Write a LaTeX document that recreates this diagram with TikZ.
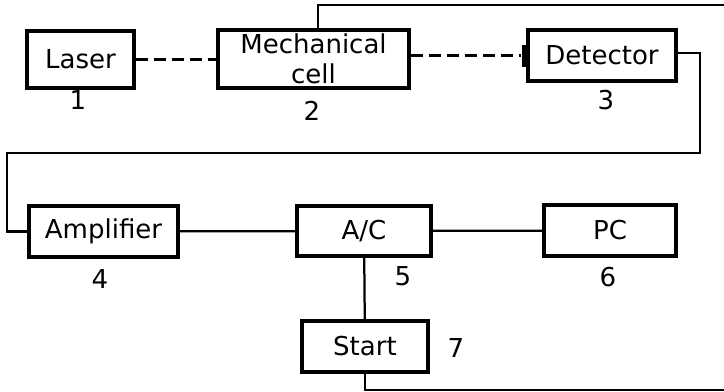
\documentclass[tikz,border=0pt]{standalone}
\usepackage{fontspec}
\setmainfont{DejaVu Sans}
\usetikzlibrary{positioning,calc}

\begin{document}
\begin{tikzpicture}[x=0.025cm,y=-0.025cm,font=\fontsize{18.5}{21}\selectfont,
    block/.style={draw,line width=2.5pt,inner sep=0pt,align=center},
    wire/.style={line width=1.6pt},
    beam/.style={line width=1.8pt,dash pattern=on 0.3cm off 0.15cm}]
    \useasboundingbox (0,0) rectangle (724,391);
    \node[block,minimum width=2.675cm,minimum height=1.425cm] (laser) at (80.5,59.5) {Laser};
    \node[block,minimum width=4.775cm,minimum height=1.45cm] (mech) at (313.5,59) {Mechanical\\cell};
    \node[block,minimum width=3.7cm,minimum height=1.275cm] (det) at (602,55.5) {Detector};
    \node[block,minimum width=3.725cm,minimum height=1.275cm] (amp) at (103.5,231.5) {Amplifier};
    \node[block,minimum width=3.35cm,minimum height=1.25cm] (ac) at (364,231) {A/C};
    \node[block,minimum width=3.3cm,minimum height=1.275cm] (pc) at (610,230.5) {PC};
    \node[block,minimum width=3.15cm,minimum height=1.275cm] (start) at (365,346.5) {Start};
    \node[fill,inner sep=0pt,minimum width=0.11cm,minimum height=0.55cm,anchor=east] (win) at (det.west) {};
    \node (n1) at (78,100) {1};
    \node (n2) at (312,111) {2};
    \node (n3) at (606,100) {3};
    \node (n4) at (100,279) {4};
    \node (n5) at (403,276) {5};
    \node (n6) at (608,277) {6};
    \node (n7) at (456,348) {7};
    \coordinate (r1) at (700,153);
    \coordinate (r2) at (7,153);
    \coordinate (t1) at (724,5);
    \coordinate (b1) at (724,390);
    \draw[beam] (laser.east) -- (laser.east -| mech.west);
    \draw[beam] (mech.east |- win.west) -- (win.west);
    \draw[wire] ([yshift=0.06cm]det.east) -| (r1) -- (r2) |- (amp.west);
    \draw[wire] (amp) -- (ac);
    \draw[wire] (ac) -- (pc);
    \draw[wire] (ac) -- (start);
    \draw[wire] ([xshift=0.11cm]mech.north) |- (t1);
    \draw[wire] (start.south) |- (b1);
  \end{tikzpicture}
\end{document}
